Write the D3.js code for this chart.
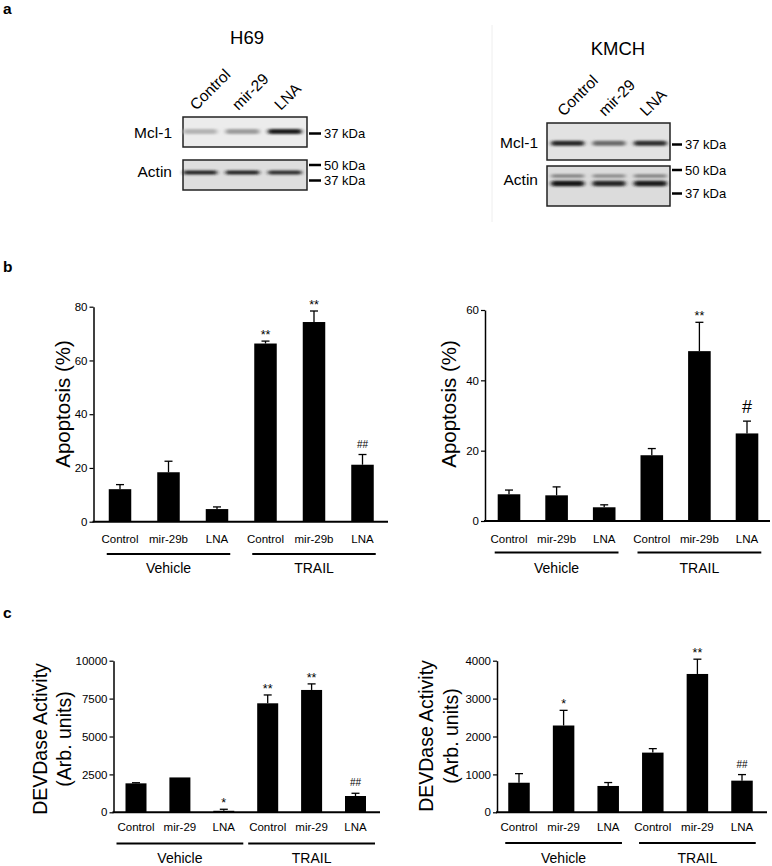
<!DOCTYPE html>
<html><head><meta charset="utf-8">
<script src="https://cdn.jsdelivr.net/npm/d3@7"></script>
<style>
body{margin:0;background:#fff}
svg{display:block}
text{font-family:"Liberation Sans",Arial,sans-serif;fill:#000}
</style>
</head><body>
<script>
// ---------- DATA ----------
const lanes = ["Control", "mir-29", "LNA"];
const h69Mcl1 = [0.18, 0.3, 0.95];
const h69Actin = [0.92, 0.92, 0.85];
const kmchMcl1 = [0.9, 0.55, 0.85];
const kmchActinUpper = [0.42, 0.38, 0.42];
const kmchActinLower = [0.97, 0.9, 0.95];

const groups = ["Vehicle", "TRAIL"];
const catsB = ["Control", "mir-29b", "LNA", "Control", "mir-29b", "LNA"];
const catsC = ["Control", "mir-29", "LNA", "Control", "mir-29", "LNA"];

const apoH69 = [12.1, 18.4, 4.7, 66.3, 74.3, 21.2];
const apoH69Err = [1.7, 4.1, 0.8, 0.9, 4.1, 3.8];
const apoH69Sig = ["", "", "", "**", "**", "##"];
const apoH69Ticks = [0, 20, 40, 60, 80];

const apoKMCH = [7.6, 7.3, 3.9, 18.7, 48.3, 24.9];
const apoKMCHErr = [1.2, 2.4, 0.7, 1.9, 8.2, 3.5];
const apoKMCHSig = ["", "", "", "", "**", "#"];
const apoKMCHTicks = [0, 20, 40, 60];

const devH69 = [1910, 2300, 100, 7190, 8070, 1075];
const devH69Err = [40, 0, 100, 550, 400, 180];
const devH69Sig = ["", "", "*", "**", "**", "##"];
const devH69Ticks = [0, 2500, 5000, 7500, 10000];

const devKMCH = [780, 2290, 695, 1575, 3650, 835];
const devKMCHErr = [240, 400, 90, 105, 390, 160];
const devKMCHSig = ["", "*", "", "", "**", "##"];
const devKMCHTicks = [0, 1000, 2000, 3000, 4000];

// ---------- SVG ----------
const W = 772, H = 866;
const svg = d3.select("body").append("svg").attr("width", W).attr("height", H);
const defs = svg.append("defs");
defs.append("filter").attr("id", "blur").attr("x", "-50%").attr("y", "-100%").attr("width", "200%").attr("height", "300%")
  .append("feGaussianBlur").attr("stdDeviation", "2.2 1.2");

// panel letters
[["a", 14], ["b", 272], ["c", 618]].forEach(([t, y]) => {
  svg.append("text").attr("x", 3).attr("y", y).attr("font-size", 15.5).attr("font-weight", "bold").text(t);
});

// ---------- BLOTS ----------
function blot(o) {
  const g = svg.append("g");
  g.append("text").attr("x", o.titleX).attr("y", o.titleY).attr("text-anchor", "middle")
    .attr("font-size", 18.5).text(o.title);
  const lx = d3.scaleBand().domain(d3.range(lanes.length)).range(o.laneRange);
  lanes.forEach((l, i) => {
    const cx = lx(i) + lx.bandwidth() / 2 - 4;
    g.append("text").attr("transform", `translate(${cx},${o.labelY}) rotate(-45)`)
      .attr("font-size", 15.5).text(l);
  });
  o.boxes.forEach(b => {
    g.append("rect").attr("x", o.x0).attr("y", b.y0).attr("width", o.x1 - o.x0).attr("height", b.y1 - b.y0)
      .attr("fill", b.bg).attr("stroke", "#222").attr("stroke-width", 1.5);
    b.bands.forEach(bd => {
      bd.vals.forEach((v, i) => {
        const w = lx.bandwidth() * 0.8;
        g.append("rect").attr("x", lx(i) + (lx.bandwidth() - w) / 2).attr("y", bd.y - bd.h / 2)
          .attr("width", w).attr("height", bd.h).attr("rx", bd.h / 2)
          .attr("fill", d3.interpolateRgb("#d8d8d8", "#111")(v))
          .attr("filter", "url(#blur)");
      });
    });
    g.append("text").attr("x", o.nameX).attr("y", b.labelY).attr("text-anchor", "end")
      .attr("font-size", 15.5).attr("dy", "0.35em").text(b.name);
    b.markers.forEach(m => {
      g.append("line").attr("x1", o.x1 + 2).attr("x2", o.x1 + o.mLen).attr("y1", m.y).attr("y2", m.y)
        .attr("stroke", "#000").attr("stroke-width", 2.5);
      g.append("text").attr("x", o.x1 + o.mLen + 3).attr("y", m.y).attr("dy", "0.36em")
        .attr("font-size", 13).text(m.t);
    });
  });
}

blot({
  title: "H69", titleX: 247, titleY: 44, laneRange: [179, 306], labelY: 111,
  x0: 183, x1: 307, nameX: 172, mLen: 14,
  boxes: [
    { y0: 117, y1: 147, bg: "#ececec", name: "Mcl-1", labelY: 133,
      bands: [{ y: 131.5, h: 5, vals: h69Mcl1 }], markers: [{ y: 133.5, t: "37 kDa" }] },
    { y0: 160, y1: 190, bg: "#dedede", name: "Actin", labelY: 172,
      bands: [{ y: 172.5, h: 4, vals: h69Actin }], markers: [{ y: 165, t: "50 kDa" }, { y: 180.5, t: "37 kDa" }] }
  ]
});

svg.append("line").attr("x1", 492).attr("x2", 492).attr("y1", 25).attr("y2", 222).attr("stroke", "#eeeeee").attr("stroke-width", 1);

blot({
  title: "KMCH", titleX: 618, titleY: 55, laneRange: [547, 671], labelY: 117,
  x0: 547, x1: 670, nameX: 538, mLen: 12,
  boxes: [
    { y0: 123, y1: 160, bg: "#e2e2e2", name: "Mcl-1", labelY: 143,
      bands: [{ y: 143.3, h: 5, vals: kmchMcl1 }], markers: [{ y: 144.5, t: "37 kDa" }] },
    { y0: 166, y1: 206, bg: "#dcdcdc", name: "Actin", labelY: 180,
      bands: [{ y: 176, h: 3.5, vals: kmchActinUpper }, { y: 183.5, h: 5.5, vals: kmchActinLower }],
      markers: [{ y: 170, t: "50 kDa" }, { y: 193.5, t: "37 kDa" }] }
  ]
});

// ---------- BAR CHARTS ----------
function barChart(o) {
  const g = svg.append("g");
  const n = o.cats.length;
  const x = d3.scaleBand().domain(d3.range(n))
    .range([o.c0 - o.step / 2, o.c0 + (n - 0.5) * o.step])
    .paddingInner(1 - o.bw / o.step).paddingOuter((1 - o.bw / o.step) / 2);
  const y = d3.scaleLinear().domain([0, d3.max(o.ticks)]).range([o.y0, o.yTop]);

  g.selectAll("rect.bar").data(o.vals).join("rect").attr("class", "bar")
    .attr("x", (d, i) => x(i)).attr("width", x.bandwidth())
    .attr("y", d => y(d)).attr("height", d => y(0) - y(d)).attr("fill", "#000");
  o.vals.forEach((v, i) => {
    const e = o.errs[i];
    if (!e) return;
    const cx = x(i) + x.bandwidth() / 2;
    g.append("line").attr("x1", cx).attr("x2", cx).attr("y1", y(v)).attr("y2", y(v + e))
      .attr("stroke", "#000").attr("stroke-width", 1.3);
    g.append("line").attr("x1", cx - 4).attr("x2", cx + 4).attr("y1", y(v + e)).attr("y2", y(v + e))
      .attr("stroke", "#000").attr("stroke-width", 1.3);
  });
  o.vals.forEach((v, i) => {
    const s = o.sig[i];
    if (!s) return;
    const cx = x(i) + x.bandwidth() / 2;
    const top = y(v + o.errs[i]);
    let fs = 12.5, off = 2;
    if (s === "#") { fs = 18; off = 8; }
    else if (s === "##") { fs = 10; off = 7; }
    g.append("text").attr("x", cx).attr("y", top - off).attr("text-anchor", "middle")
      .attr("font-size", fs).text(s);
  });
  const ax = g.append("g").attr("transform", `translate(${o.ax},0)`)
    .call(d3.axisLeft(y).tickValues(o.ticks).tickFormat(d3.format("d")).tickSize(4).tickSizeOuter(0));
  ax.select(".domain").attr("stroke", "#000").attr("stroke-width", 1.5);
  ax.selectAll(".tick line").attr("stroke", "#000").attr("stroke-width", 1.2);
  ax.selectAll(".tick text").attr("font-size", 11.5).attr("x", -6).attr("fill", "#000")
    .style("font-family", '"Liberation Sans",Arial,sans-serif');
  g.append("line").attr("x1", o.ax - 1).attr("x2", o.xEnd).attr("y1", o.y0).attr("y2", o.y0)
    .attr("stroke", "#000").attr("stroke-width", 2);
  o.cats.forEach((c, i) => {
    g.append("text").attr("x", x(i) + x.bandwidth() / 2).attr("y", o.labY)
      .attr("dy", "0.35em").attr("text-anchor", "middle").attr("font-size", 11.5).text(c);
  });
  groups.forEach((gname, k) => {
    const a = x(k * 3) - o.lineExt, b = x(k * 3 + 2) + x.bandwidth() + o.lineExt;
    g.append("line").attr("x1", a).attr("x2", b).attr("y1", o.lineY).attr("y2", o.lineY)
      .attr("stroke", "#000").attr("stroke-width", 2);
    g.append("text").attr("x", (a + b) / 2).attr("y", o.groupY).attr("dy", "0.35em")
      .attr("text-anchor", "middle").attr("font-size", 14).text(gname);
  });
  o.title.forEach((t, k) => {
    g.append("text").attr("transform", `translate(${o.titleX[k]},${o.titleCY}) rotate(-90)`)
      .attr("text-anchor", "middle").attr("dy", "0.35em").attr("font-size", o.titleFs).text(t);
  });
}

barChart({
  cats: catsB, vals: apoH69, errs: apoH69Err, sig: apoH69Sig, ticks: apoH69Ticks,
  ax: 93.5, xEnd: 388, y0: 521.7, yTop: 306.7, c0: 120, step: 48.5, bw: 22.5,
  labY: 539, lineY: 554, lineExt: 2, groupY: 568.5,
  title: ["Apoptosis (%)"], titleX: [63], titleCY: 404, titleFs: 20.5
});
barChart({
  cats: catsB, vals: apoKMCH, errs: apoKMCHErr, sig: apoKMCHSig, ticks: apoKMCHTicks,
  ax: 485, xEnd: 770, y0: 521, yTop: 310, c0: 509, step: 47.6, bw: 22.6,
  labY: 538.5, lineY: 552.5, lineExt: 3, groupY: 568.5,
  title: ["Apoptosis (%)"], titleX: [448.5], titleCY: 404, titleFs: 20.5
});
barChart({
  cats: catsC, vals: devH69, errs: devH69Err, sig: devH69Sig, ticks: devH69Ticks,
  ax: 113.5, xEnd: 380, y0: 812.3, yTop: 660.7, c0: 136, step: 43.9, bw: 21,
  labY: 826.5, lineY: 843.5, lineExt: 9, groupY: 858.5,
  title: ["DEVDase Activity", "(Arb. units)"], titleX: [40, 64], titleCY: 739, titleFs: 19.5
});
barChart({
  cats: catsC, vals: devKMCH, errs: devKMCHErr, sig: devKMCHSig, ticks: devKMCHTicks,
  ax: 497, xEnd: 767, y0: 812.3, yTop: 660.7, c0: 519, step: 44.6, bw: 21.5,
  labY: 826.5, lineY: 843, lineExt: 3, groupY: 858.5,
  title: ["DEVDase Activity", "(Arb. units)"], titleX: [426.5, 451.5], titleCY: 736, titleFs: 19.5
});
</script>
</body></html>
